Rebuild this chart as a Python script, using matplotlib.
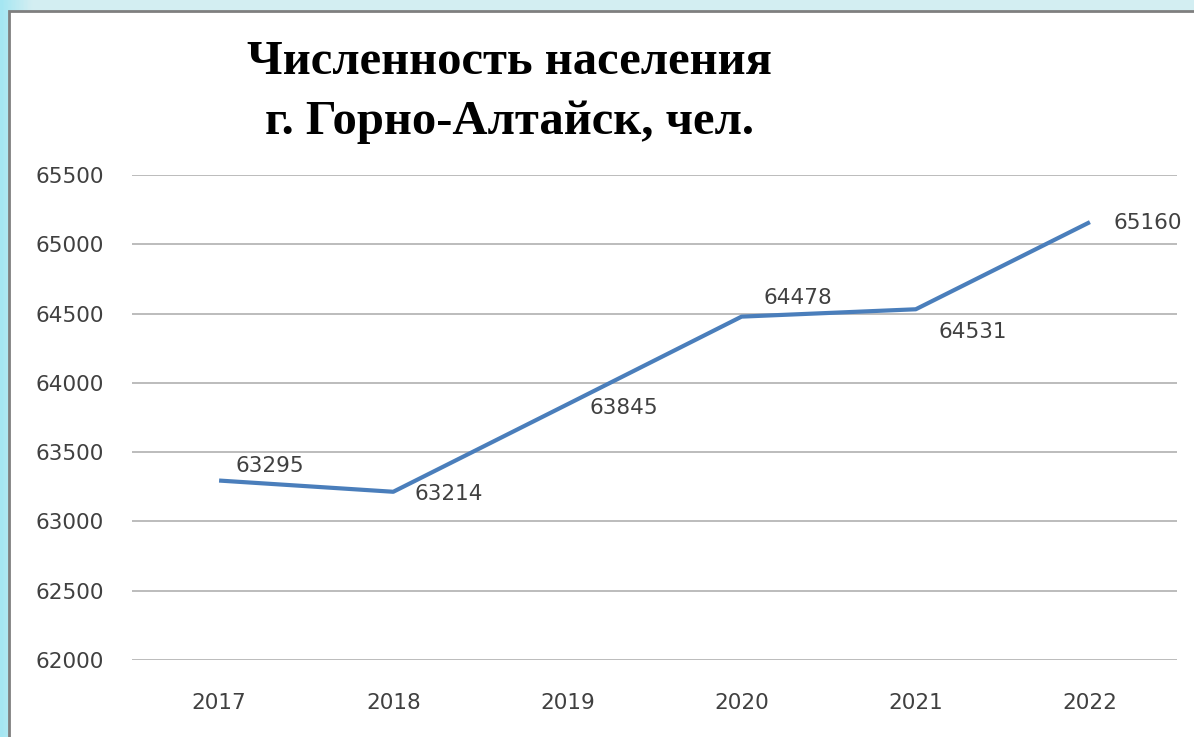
import numpy as np
import matplotlib
matplotlib.use('Agg')
import matplotlib.pyplot as plt
from matplotlib.patches import Rectangle

# population of Gorno-Altaysk by year
years = ['2017', '2018', '2019', '2020', '2021', '2022']
population = [63295, 63214, 63845, 64478, 64531, 65160]
# label offsets from the point, pixels (dx, dy)
label_dx = [51, 56, 56, 56, 57, 58]
label_dy = [15, -2, -4, 19, -23, -1]
y_ticks = [62000, 62500, 63000, 63500, 64000, 64500, 65000, 65500]

fig = plt.figure(figsize=(11.94, 7.37), dpi=100)

# light cyan backdrop with a gradient, white panel on top
bg = fig.add_axes([0, 0, 1, 1], zorder=-10)
grad = np.linspace(0, 1, 300)
gx, gy = np.meshgrid(grad, grad)
g = np.clip(1 - np.minimum(gx * 40, 1) * 0.6 - 0.1, 0, 1)
img = np.zeros((300, 300, 3))
img[..., 0] = 0.62 + 0.3 * (1 - g)
img[..., 1] = 0.9 + 0.05 * (1 - g)
img[..., 2] = 0.95
bg.imshow(img, aspect='auto', extent=[0, 1, 0, 1])
bg.set_xlim(0, 1)
bg.set_ylim(0, 1)
bg.add_patch(Rectangle((9 / 1194, -0.01), 1.0, 1 - 11 / 737 + 0.01,
                       facecolor='white', edgecolor='#7f7f7f', linewidth=2))
bg.axis('off')

ax = fig.add_axes([132 / 1194, 1 - 660 / 737, (1177 - 132) / 1194, (660 - 175) / 737])
ax.set_facecolor('none')
x = np.arange(len(years))
ax.plot(x, population, color='#4a7ebb', linewidth=3, solid_capstyle='butt', zorder=3)

for i in range(len(years)):
    ax.annotate(str(population[i]), (x[i], population[i]),
                xytext=(label_dx[i], label_dy[i]), textcoords='offset pixels',
                ha='center', va='center', fontsize=15.5, color='#404040',
                family='DejaVu Sans')

ax.set_xlim(-0.5, len(years) - 0.5)
ax.set_ylim(62000, 65500)
ax.set_yticks(y_ticks)
ax.set_yticklabels([str(v) for v in y_ticks])
ax.set_xticks(x)
ax.set_xticklabels(years)
ax.yaxis.grid(True, color='#aaaaaa', linewidth=1.1)
ax.set_axisbelow(True)
for s in ax.spines.values():
    s.set_visible(False)
ax.tick_params(axis='both', length=0, labelsize=15.5, labelcolor='#404040')
ax.tick_params(axis='y', pad=20)
ax.tick_params(axis='x', pad=24)

fig.text(0.427, 1 - 62 / 737, 'Численность населения', ha='center', va='center',
         family='Liberation Serif', fontweight='bold', fontsize=35, color='black')
fig.text(0.427, 1 - 122 / 737, 'г. Горно-Алтайск, чел.', ha='center', va='center',
         family='Liberation Serif', fontweight='bold', fontsize=35, color='black')

fig.savefig('out.png', dpi=100)
